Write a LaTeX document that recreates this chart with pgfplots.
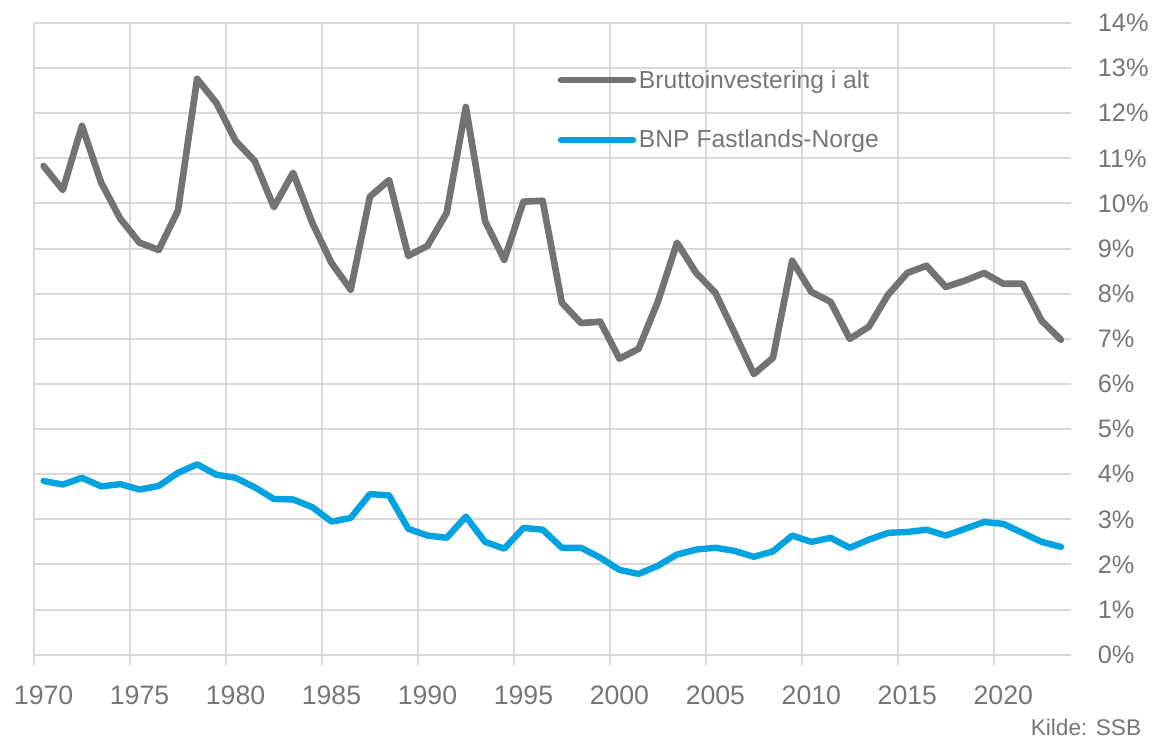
\documentclass[border=0pt]{standalone}
\usepackage{fontspec}
\setmainfont{Liberation Sans}
\usepackage{pgfplots}
\pgfplotsset{compat=1.18}
\definecolor{lgray}{HTML}{737373}
\definecolor{lblue}{HTML}{00A3E0}
\definecolor{gridc}{HTML}{D9D9D9}
\definecolor{txt}{HTML}{767676}

\begin{document}
\begin{tikzpicture}
\begin{axis}[
  width=777.75pt, height=474pt, scale only axis,
  xmin=1969.5, xmax=2023.5,
  ymin=0, ymax=14,
  axis line style={draw=none},
  xtick={1970,1975,...,2020},
  minor xtick={1969.5,1974.5,...,2019.5},
  major tick length=0pt,
  minor tick length=7.5pt,
  tick align=outside,
  xtick pos=bottom,
  ytick={0,1,...,14},
  yticklabel pos=right,
  ytick style={draw=none},
  minor x tick style={gridc, line width=1.5pt},
  xminorgrids, ymajorgrids,
  grid style={gridc, line width=1.5pt},
  minor grid style={gridc, line width=1.5pt},
  yticklabel={\makebox[2.2em][l]{\pgfmathprintnumber{\tick}\%}},
  /pgf/number format/assume math mode=true,
  xticklabel style={/pgf/number format/1000 sep={}, font=\fontsize{20}{23}\selectfont, text=txt, yshift=-20pt},
  yticklabel style={font=\fontsize{19}{22}\selectfont, text=txt, anchor=west, xshift=17pt},
  clip=false,
  legend style={draw=none, fill=none, at={(rel axis cs:0.505,0.93)}, anchor=north west,
    font=\fontsize{18.5}{21}\selectfont, text=txt, row sep=26pt, inner sep=0pt},
  legend cell align=left,
  legend image code/.code={\draw[#1] (0pt,0pt) -- (54pt,0pt);},
  every axis plot/.append style={line join=round, line cap=round},
]
\addplot[lgray, line width=5pt] coordinates {
(1970,10.83) (1971,10.30) (1972,11.72) (1973,10.46) (1974,9.66) (1975,9.13)
(1976,8.97) (1977,9.84) (1978,12.76) (1979,12.23) (1980,11.39) (1981,10.94)
(1982,9.92) (1983,10.68) (1984,9.57) (1985,8.68) (1986,8.09) (1987,10.15)
(1988,10.52) (1989,8.84) (1990,9.06) (1991,9.79) (1992,12.14) (1993,9.61)
(1994,8.75) (1995,10.04) (1996,10.06) (1997,7.80) (1998,7.35) (1999,7.38)
(2000,6.56) (2001,6.78) (2002,7.82) (2003,9.13) (2004,8.46) (2005,8.02)
(2006,7.13) (2007,6.22) (2008,6.58) (2009,8.73) (2010,8.04) (2011,7.82)
(2012,7.00) (2013,7.27) (2014,7.98) (2015,8.46) (2016,8.62) (2017,8.15)
(2018,8.29) (2019,8.46) (2020,8.22) (2021,8.22) (2022,7.40) (2023,6.98)
};
\addlegendentry{Bruttoinvestering i alt}
\addplot[lblue, line width=4.8pt] coordinates {
(1970,3.85) (1971,3.77) (1972,3.92) (1973,3.73) (1974,3.78) (1975,3.66)
(1976,3.74) (1977,4.03) (1978,4.22) (1979,3.99) (1980,3.92) (1981,3.71)
(1982,3.45) (1983,3.44) (1984,3.27) (1985,2.95) (1986,3.03) (1987,3.56)
(1988,3.53) (1989,2.79) (1990,2.64) (1991,2.59) (1992,3.06) (1993,2.50)
(1994,2.35) (1995,2.81) (1996,2.77) (1997,2.37) (1998,2.37) (1999,2.15)
(2000,1.88) (2001,1.79) (2002,1.97) (2003,2.22) (2004,2.33) (2005,2.37)
(2006,2.30) (2007,2.17) (2008,2.29) (2009,2.64) (2010,2.50) (2011,2.59)
(2012,2.37) (2013,2.55) (2014,2.70) (2015,2.72) (2016,2.77) (2017,2.64)
(2018,2.79) (2019,2.94) (2020,2.90) (2021,2.70) (2022,2.50) (2023,2.39)
};
\addlegendentry{BNP Fastlands-Norge}
\node[anchor=east, font=\fontsize{17}{20}\selectfont, text=txt, inner sep=0pt]
  at ([xshift=53.25pt, yshift=-54.75pt]rel axis cs:1,0) {Kilde: SSB};
\end{axis}
\path ([xshift=-25.5pt, yshift=-63pt]current axis.south west)
  rectangle ([xshift=65.25pt, yshift=17.25pt]current axis.north east);
\end{tikzpicture}
\end{document}
